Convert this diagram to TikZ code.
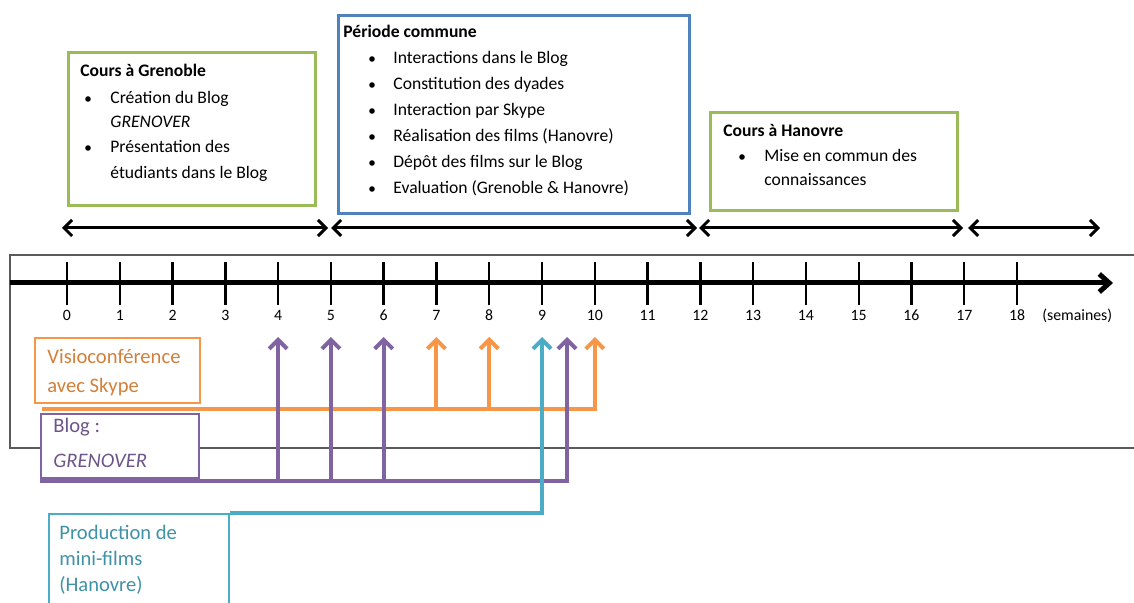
\documentclass[tikz,border=0pt]{standalone}
\usepackage{fontspec}
\setmainfont{Carlito}
\usetikzlibrary{arrows.meta,positioning}

\begin{document}
\begin{tikzpicture}[x=0.5pt,y=-0.5pt,
  cadre/.style={draw,line width=1.5pt,fill=white,anchor=north west,inner sep=0},
  ligne/.style={anchor=base west,inner sep=0,font=\fontsize{8.8}{10}\selectfont},
  titre/.style={anchor=base west,inner sep=0,font=\fontsize{8.8}{10}\selectfont\bfseries},
  gros/.style={anchor=base west,inner sep=0,font=\fontsize{10.3}{12}\selectfont},
  axe/.style={anchor=base,inner sep=0,font=\fontsize{7.9}{9}\selectfont},
  periode/.style={line width=1.5pt,>={Straight Barb[length=4pt,width=8pt]},<->},
  fleche/.style={line width=2pt,-{Straight Barb[length=4.5pt,width=9pt]}}]
\definecolor{vert}{HTML}{9BBB59}
\definecolor{bleu}{HTML}{4F81BD}
\definecolor{orange}{HTML}{F79646}
\definecolor{violet}{HTML}{8064A2}
\definecolor{turquoise}{HTML}{4BACC6}
\definecolor{cadregris}{HTML}{5A5A5A}
\useasboundingbox (0,0) rectangle (1134,603);

% cadre de l'axe
\draw[cadregris,line width=0.7pt] (10,255) rectangle (1145,448);

% les trois periodes
\node[cadre,draw=vert,minimum width=123.5pt,minimum height=76.5pt] (grenoble) at (67,51) {};
\node[titre] (tgre) at (80,77) {Cours à Grenoble};
\node[ligne] at (110,104) {Création du Blog};
\node[ligne] at (110,128) {\textit{GRENOVER}};
\node[ligne] at (110,153) {Présentation des};
\node[ligne] at (110,179) {étudiants dans le Blog};
\foreach \y in {99,148} \fill (88,\y) circle (1.4pt);

\node[cadre,draw=bleu,minimum width=175.5pt,minimum height=99pt] (commune) at (337,14) {};
\node[titre] (tcom) at (343,38) {Période commune};
\foreach \txt [count=\i] in {Interactions dans le Blog,Constitution des dyades,Interaction par Skype,Réalisation des films (Hanovre),Dépôt des films sur le Blog,Evaluation (Grenoble \& Hanovre)}
{ \fill (372,{33+26*\i}) circle (1.4pt);
  \node[ligne] at (393,{38+26*\i}) {\txt};}

\node[cadre,draw=vert,minimum width=123.5pt,minimum height=49pt] (hanovre) at (709,111) {};
\node[titre] (than) at (723,137) {Cours à Hanovre};
\fill (742,157) circle (1.4pt);
\node[ligne] at (764,162) {Mise en commun des};
\node[ligne] at (764,186) {connaissances};

% fleches des periodes
\foreach \nom/\x in {d0/62,d1/328,d2/331,d3/697,d4/699,d5/963,d6/968,d7/1100}
  \coordinate (\nom) at (\x,228);
\draw[periode] (d0) -- (d1);
\draw[periode] (d2) -- (d3);
\draw[periode] (d4) -- (d5);
\draw[periode] (d6) -- (d7);

% axe du temps
\coordinate (debut) at (10,283);
\coordinate (fin) at (1113,283);
\draw[line width=2.5pt,-{Straight Barb[length=5pt,width=9pt]}] (debut) -- (fin);
\foreach \n in {0,...,18}
{ \draw[line width=1.2pt] ({67+52.78*\n},262) -- ({67+52.78*\n},305);
  \node[axe] (t\n) at ({67+52.78*\n},321) {\n};}
\node[axe,anchor=base west] (unite) at (1042,321) {(semaines)};
\coordinate (haut) at (0,337);
\coordinate (t95) at (567,0);

% activites
\node[cadre,draw=orange,line width=1pt,minimum width=82.5pt,minimum height=32.5pt] (visio) at (34,337) {};
\node[gros,text=orange!85!black] at (47,364) {Visioconférence};
\node[gros,text=orange!85!black] at (47,393) {avec Skype};

\node[cadre,draw=violet,line width=1pt,minimum width=79pt,minimum height=32pt] (blog) at (40,413) {};
\node[gros,text=violet!85!black] at (53,433) {Blog :};
\node[gros,text=violet!85!black] at (53,468) {\textit{GRENOVER}};

\node[cadre,draw=turquoise,line width=1pt,minimum width=90pt,minimum height=60pt] (prod) at (48,513) {};
\node[gros,text=turquoise!85!black] at (59,539) {Production de};
\node[gros,text=turquoise!85!black] at (59,565) {mini-films};
\node[gros,text=turquoise!85!black] at (59,591) {(Hanovre)};

% liaisons vers l'axe
\coordinate (bvisio) at (42,409);
\coordinate (bblog) at (40,481);
\draw[fleche,orange] (bvisio) -| (t10 |- haut);
\draw[fleche,orange] (t7 |- bvisio) -- (t7 |- haut);
\draw[fleche,orange] (t8 |- bvisio) -- (t8 |- haut);

\draw[fleche,violet] (bblog) -| (t95 |- haut);
\foreach \n in {4,5,6}
  \draw[fleche,violet] (t\n |- bblog) -- (t\n |- haut);

\draw[fleche,turquoise] (prod.north east) -| (t9 |- haut);
\end{tikzpicture}
\end{document}
